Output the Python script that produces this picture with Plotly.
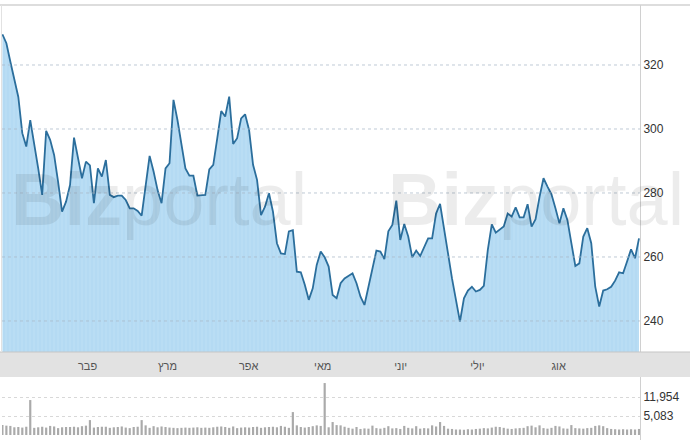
import plotly.graph_objects as go

# ---- data ----
price = [
    329.6, 326.8, 321.0, 315.8, 310.0, 298.7, 294.5, 302.8, 295.5, 287.7,
    279.4, 299.4, 296.6, 291.9, 283.5, 274.2, 277.3, 282.5, 297.3, 291.4,
    284.6, 289.8, 288.6, 276.8, 287.7, 285.1, 290.3, 279.4, 278.7, 279.2,
    279.2, 277.8, 275.2, 275.2, 274.4, 272.9, 282.5, 291.6, 286.7, 280.9,
    276.8,
    287.7, 289.3, 309.1, 302.8, 295.5, 287.7, 285.4, 285.4, 279.2, 279.2,
    279.4, 287.4, 288.8, 297.1, 305.6, 303.9, 310.1, 295.3, 297.1, 303.3,
    304.6, 299.7, 288.8, 284.1, 273.1, 275.7, 279.9, 274.2, 264.3, 261.1,
    260.9, 268.0, 268.4, 255.4, 255.2, 251.3, 246.6, 250.2, 257.5,
    261.7, 259.9, 257.0, 248.1, 247.1, 251.8, 253.3, 254.1, 254.9, 251.8,
    247.6, 245.0, 250.7, 256.5, 262.0, 261.7, 259.3, 268.0, 270.0, 277.6,
    265.3, 270.3, 266.4, 259.9, 262.0, 260.3, 263.0, 265.8, 265.8, 273.6,
    276.6, 269.5, 261.1, 253.3, 246.0, 239.8, 247.1, 249.5, 250.7, 249.2,
    249.7,
    251.0, 262.2, 270.2, 267.6, 268.6, 269.5, 273.6, 272.6, 275.5, 272.4,
    272.4, 276.5, 269.5, 271.8, 278.8, 284.6, 282.0, 279.6, 275.2, 270.5,
    275.2, 271.6, 264.3, 257.2, 258.0, 266.4, 269.0, 264.3, 250.7, 244.5,
    249.5, 249.9, 250.7, 252.6, 255.2, 254.9, 258.6, 262.4, 259.6, 265.8,
]

volume = [
    1800, 1600, 1500, 1000, 1100, 900, 1200, 10850, 800, 1000,
    1200, 900, 1500, 1300, 700, 1000, 1100, 1100, 1200, 1000,
    1400, 1600, 3600, 900, 1100, 1200, 1200, 800, 1000, 1100,
    1300, 900, 700, 1100, 1200, 3600, 1700, 800, 1400, 1000,
    1300, 1100, 900, 800, 700, 800, 900, 800, 900, 1000,
    800, 900, 800, 1000, 1200, 1300, 1100, 800, 1300, 700,
    900, 1000, 900, 1100, 1200, 800, 1000, 1100, 1200, 1000,
    1500, 1200, 800, 6500, 1700, 1100, 900, 1100, 1400, 1700,
    1500, 17000, 1000, 2900, 1800, 1700, 1200, 800, 500, 1100,
    400, 600, 500, 1600, 700, 500, 800, 1400, 600, 700,
    400, 1500, 800, 600, 1400, 500, 700, 600, 1700, 1300,
    2900, 1500, 500, 400, 200, 200, 100, 300, 200, 400,
    500, 700, 600, 900, 1200, 1100, 800, 500, 400, 600,
    700, 800, 1400, 1600, 1000, 1700, 700, 500, 800, 1500,
    1300, 600, 500, 1800, 700, 600, 500, 700, 800, 1500,
    1700, 1400, 700, 400, 300, 200, 300, 200, 300, 200,
    400,
]

month_labels = ["פבר", "מרץ", "אפר", "מאי", "יוני", "יולי", "אוג"]
month_pos = [21.4, 41.5, 61.9, 80.5, 100.1, 119.4, 139.8]
price_ticks = [240, 260, 280, 300, 320]
vol_ticks = [5083, 11954]
vol_floor = -1788          # axis value at which the volume bars start
vol_range = [-3596, 19186]

n = min(len(price), len(volume))
price = price[:n]
volume = volume[:n]
days = list(range(n))

# ---- layout geometry ----
W, H = 694, 440
x_dom = [2 / W, 640 / W]
price_dom = [(H - 352) / H, (H - 5) / H]
vol_dom = [0, (H - 377) / H]
FONT = "Arial, Liberation Sans, DejaVu Sans, sans-serif"

fig = go.Figure()
fig.add_trace(go.Scatter(
    x=days, y=price, mode="lines",
    line=dict(color="#2b6e9c", width=1.8),
    fill="tozeroy", fillcolor="#b7dcf3",
    fillpattern=dict(shape="|", size=4, solidity=0.25,
                     fgcolor="#a2cfee", bgcolor="#b9ddf4"),
    xaxis="x", yaxis="y", hoverinfo="skip",
))
fig.add_trace(go.Bar(
    x=days, y=[v - vol_floor for v in volume], base=vol_floor,
    marker=dict(color="#aaaaaa", line_width=0),
    xaxis="x2", yaxis="y2", hoverinfo="skip",
))

shapes = []
# gray month band
shapes.append(dict(type="rect", xref="paper", yref="paper",
                   x0=0, x1=690 / W, y0=(H - 377) / H, y1=(H - 352) / H,
                   fillcolor="#e2e2e2", line_width=0, layer="below"))
shapes.append(dict(type="line", xref="paper", yref="paper",
                   x0=0, x1=690 / W, y0=(H - 352) / H, y1=(H - 352) / H,
                   line=dict(color="#c6c6c6", width=1.2)))
# top frame line
shapes.append(dict(type="line", xref="paper", yref="paper",
                   x0=0, x1=690 / W, y0=(H - 5) / H, y1=(H - 5) / H,
                   line=dict(color="#d2d2d2", width=1.5)))
# left frame line
shapes.append(dict(type="line", xref="paper", yref="paper",
                   x0=1.5 / W, x1=1.5 / W, y0=(H - 352) / H, y1=(H - 5) / H,
                   line=dict(color="#e2e2e2", width=1)))
# price gridlines above the fill
for t in price_ticks:
    shapes.append(dict(type="line", xref="x domain", yref="y",
                       x0=0, x1=1, y0=t, y1=t, layer="above",
                       line=dict(color="rgba(170,185,200,0.75)", width=1, dash="dot")))

annotations = []
for cx in (159, 536):
    annotations.append(dict(
        xref="paper", yref="paper", x=cx / W, y=(H - 199) / H,
        xanchor="center", yanchor="middle", showarrow=False,
        text="<b>Biz</b>portal",
        font=dict(family="Liberation Sans, Arial", size=74, color="rgba(0,0,0,0.075)"),
    ))

fig.update_layout(
    width=W, height=H,
    margin=dict(l=0, r=0, t=0, b=0, autoexpand=False),
    paper_bgcolor="white", plot_bgcolor="rgba(0,0,0,0)",
    showlegend=False, bargap=0.45,
    font=dict(family=FONT, color="#333"),
    shapes=shapes, annotations=annotations,
    xaxis=dict(domain=x_dom, anchor="y", range=[-0.1, n - 0.75],
               tickvals=month_pos, ticktext=month_labels,
               ticks="outside", ticklen=4, tickcolor="rgba(0,0,0,0)",
               tickfont=dict(size=11, color="#555"),
               showgrid=False, zeroline=False, showline=False),
    yaxis=dict(domain=price_dom, anchor="x", range=[230.3, 338.75],
               side="right", tickvals=price_ticks,
               tickfont=dict(size=12, color="#333"),
               showgrid=False, zeroline=False,
               showline=True, linecolor="#d0d0d0", linewidth=1),
    xaxis2=dict(domain=x_dom, anchor="y2", matches="x",
                showticklabels=False, showgrid=False, zeroline=False, showline=False),
    yaxis2=dict(domain=vol_dom, anchor="x2", range=vol_range,
                side="right", tickvals=vol_ticks,
                ticktext=[f"{v:,}" for v in vol_ticks],
                tickfont=dict(size=12, color="#333"),
                showgrid=True, gridcolor="#d8d8d8", griddash="dot",
                zeroline=False, showline=True, linecolor="#d0d0d0", linewidth=1),
)

fig.write_html("out.html",
               config={"displayModeBar": False},
               post_script="document.body.style.margin='0px';document.body.style.padding='0px';")
